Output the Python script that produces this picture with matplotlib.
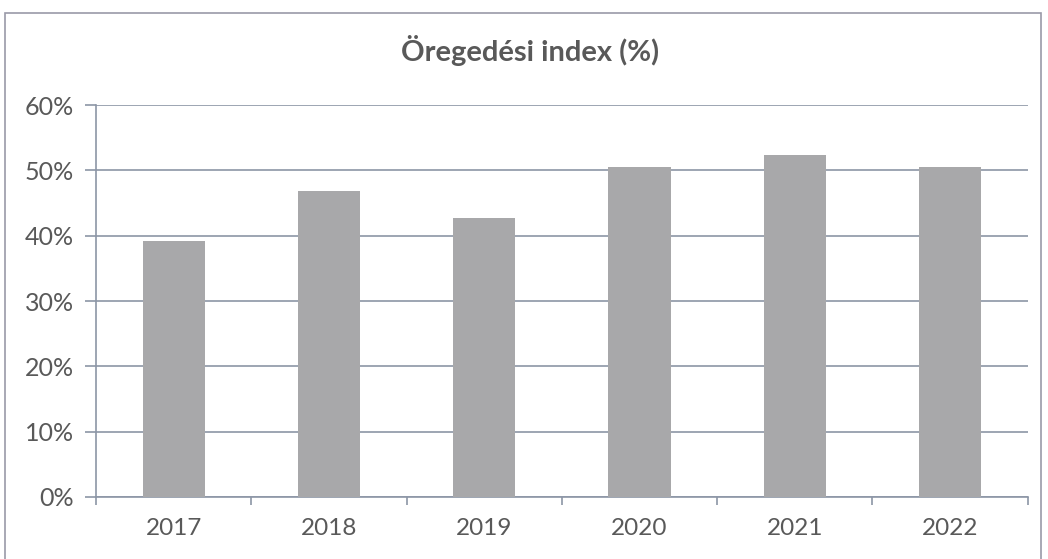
import matplotlib.pyplot as plt
from matplotlib.patches import Rectangle
from matplotlib.ticker import FuncFormatter, FixedLocator

years = ["2017", "2018", "2019", "2020", "2021", "2022"]
index_pct = [39.2, 46.9, 42.7, 50.5, 52.4, 50.5]

text_col = "#595959"
grid_col = "#8c96a6"
bar_col = "#a8a8aa"

plt.rcParams['font.family'] = ['Lato', 'DejaVu Sans']

fig = plt.figure(figsize=(10.48, 5.59), dpi=100)
ax = fig.add_axes([0.0916, 0.111, 0.889, 0.701])

x = list(range(len(years)))
ax.bar(x, index_pct, width=0.4, color=bar_col, zorder=3)

ax.set_xlim(-0.5, len(years) - 0.5)
ax.set_ylim(0, 60)
ax.set_yticks(range(0, 61, 10))
ax.yaxis.set_major_formatter(FuncFormatter(lambda v, p: f"{v:.0f}%"))
ax.yaxis.grid(True, color=grid_col, linewidth=1.2, zorder=0)

ax.set_xticks(x)
ax.set_xticklabels(years)
ax.xaxis.set_minor_locator(FixedLocator([i + 0.5 for i in range(-1, len(years))]))
ax.tick_params(axis='x', which='major', length=0, pad=15, labelsize=17.5, labelcolor=text_col)
ax.tick_params(axis='x', which='minor', length=6, color=grid_col, width=1.2, direction='out')
ax.tick_params(axis='y', length=8, color=grid_col, width=1.2, pad=8, labelsize=18, labelcolor=text_col)

for s in ['top', 'right']:
    ax.spines[s].set_visible(False)
for s in ['left', 'bottom']:
    ax.spines[s].set_color(grid_col)
    ax.spines[s].set_linewidth(1.2)

fig.text(0.506, 0.91, "Öregedési index (%)", ha='center', va='center',
         fontsize=21, fontweight='bold', color=text_col)

# chart frame
fig.patches.append(Rectangle((0.005, -0.05), 0.988, 1.027, transform=fig.transFigure,
                             fill=False, edgecolor="#9a9aa8", linewidth=1.2))

fig.savefig("out.png", dpi=100)
